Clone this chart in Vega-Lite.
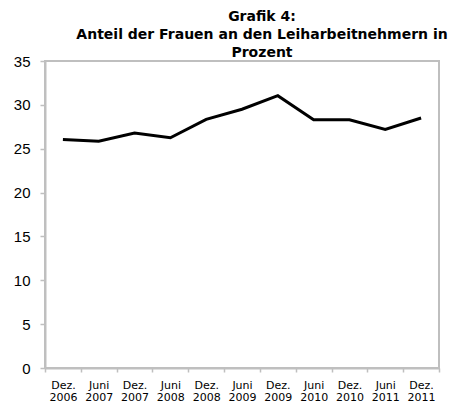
{
  "$schema": "https://vega.github.io/schema/vega-lite/v6.json",
  "width": 394,
  "height": 307,
  "autosize": {"type": "none"},
  "padding": {"left": 45, "top": 61, "right": 12, "bottom": 35},
  "background": "white",
  "title": {
    "text": ["Grafik 4:", "Anteil der Frauen an den Leiharbeitnehmern in", "Prozent"],
    "font": "DejaVu Sans",
    "fontSize": 14,
    "fontWeight": "bold",
    "lineHeight": 18,
    "color": "black",
    "anchor": "middle",
    "dx": 20,
    "offset": -6
  },
  "config": {
    "view": {"stroke": "#bfbfbf", "strokeWidth": 2},
    "axis": {"grid": false, "domainColor": "#bfbfbf", "domainWidth": 2, "tickColor": "#bfbfbf", "tickWidth": 1.5, "labelColor": "black"}
  },
  "data": {
    "values": [
      {"label": "Dez. 2006", "value": 26.05},
      {"label": "Juni 2007", "value": 25.85},
      {"label": "Dez. 2007", "value": 26.8},
      {"label": "Juni 2008", "value": 26.25},
      {"label": "Dez. 2008", "value": 28.35},
      {"label": "Juni 2009", "value": 29.5},
      {"label": "Dez. 2009", "value": 31.05},
      {"label": "Juni 2010", "value": 28.3},
      {"label": "Dez. 2010", "value": 28.3},
      {"label": "Juni 2011", "value": 27.2},
      {"label": "Dez. 2011", "value": 28.5}
    ]
  },
  "mark": {"type": "line", "color": "black", "strokeWidth": 3},
  "encoding": {
    "x": {
      "field": "label",
      "type": "nominal",
      "sort": null,
      "bandPosition": 0.5,
      "scale": {"type": "band", "paddingInner": 0, "paddingOuter": 0},
      "axis": {
        "title": null,
        "labelAngle": 0,
        "labelFont": "DejaVu Sans",
        "labelFontSize": 11,
        "labelExpr": "split(datum.label, ' ')",
        "labelLineHeight": 12,
        "labelPadding": 7,
        "tickBand": "extent",
        "tickSize": 4
      }
    },
    "y": {
      "field": "value",
      "type": "quantitative",
      "scale": {"domain": [0, 35], "nice": false},
      "axis": {
        "title": null,
        "values": [0, 5, 10, 15, 20, 25, 30, 35],
        "labelFont": "Liberation Sans",
        "labelFontSize": 15,
        "tickSize": 5,
        "labelPadding": 10
      }
    }
  }
}
